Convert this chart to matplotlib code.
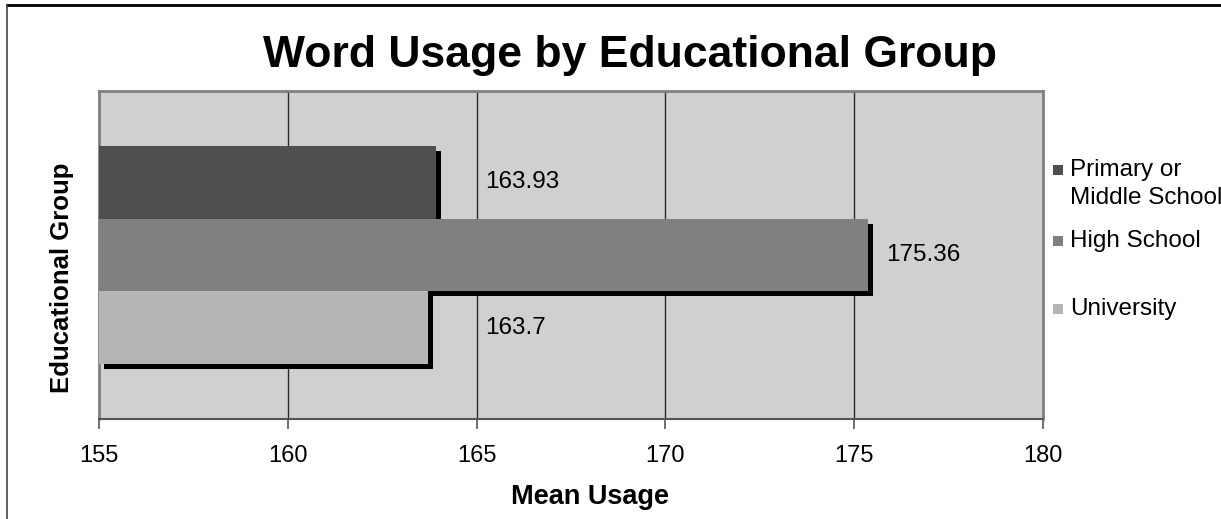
import matplotlib.pyplot as plt
from matplotlib.patches import Rectangle
from matplotlib.lines import Line2D
from matplotlib.transforms import offset_copy

plt.rcParams['font.family'] = ['Liberation Sans', 'DejaVu Sans']

# mean usage per educational group
groups = ['Primary or\nMiddle School', 'High School', 'University']
means = [163.93, 175.36, 163.7]
colors = ['#4f4f4f', '#808080', '#b5b5b5']
x_ticks = [155, 160, 165, 170, 175, 180]

W, H = 1221, 519
fig = plt.figure(figsize=(W / 100, H / 100), dpi=100)
ax = fig.add_axes([99 / W, 1 - 419 / H, (1043 - 99) / W, (419 - 91) / H])
ax.set_facecolor('#d0d0d0')

base = x_ticks[0]
ypos = [0, 1, 2]
shadow = offset_copy(ax.transData, fig=fig, x=5, y=-5, units='dots')

# draw each bar right after its own shadow so later bars cover earlier shadows
for i, (y, v, c) in enumerate(zip(ypos, means, colors)):
    ax.add_patch(Rectangle((base, y - 0.5), v - base, 1.0, facecolor='black',
                           edgecolor='none', transform=shadow, zorder=3 + 2 * i))
    ax.add_patch(Rectangle((base, y - 0.5), v - base, 1.0, facecolor=c,
                           edgecolor='none', zorder=4 + 2 * i))

# value labels
label_x = [165.22, 175.84, 165.22]
for y, v, lx in zip(ypos, means, label_x):
    ax.text(lx, y, f'{v:g}', fontsize=17.5, va='center', ha='left', zorder=10)

ax.set_xlim(x_ticks[0], x_ticks[-1])
ax.set_ylim(3.25, -1.25)
ax.set_xticks(x_ticks)
ax.set_xticklabels([str(t) for t in x_ticks], fontsize=17)
ax.set_yticks([])
ax.xaxis.grid(True, color='#2a2a2a', linewidth=1)
ax.set_axisbelow(True)
ax.tick_params(axis='x', direction='out', length=7, width=1.2, color='#555555', pad=12)
for side, sp in ax.spines.items():
    sp.set_color('#808080')
    sp.set_linewidth(2)
ax.spines['bottom'].set_color('#555555')
ax.spines['bottom'].set_linewidth(1.5)

fig.text(590 / W, 1 - 497 / H, 'Mean Usage', fontsize=19.5, fontweight='bold',
         ha='center', va='center')
fig.text(62 / W, 1 - 278 / H, 'Educational Group', rotation=90, fontsize=18.5,
         fontweight='bold', ha='center', va='center')
fig.text(630 / W, 1 - 56 / H, 'Word Usage by Educational Group', fontsize=32,
         fontweight='bold', ha='center', va='center')

# legend on the right
leg_y = [170, 241, 309]
txt_y = [184, 241, 309]
for c, g, my, ty in zip(colors, groups, leg_y, txt_y):
    fig.patches.append(Rectangle((1053 / W, 1 - (my + 5) / H), 10 / W, 10 / H,
                                 facecolor=c, edgecolor='none',
                                 transform=fig.transFigure, figure=fig))
    fig.text(1070 / W, 1 - ty / H, g, fontsize=17.5, ha='left', va='center',
             linespacing=1.3)

# outer chart frame
fig.add_artist(Line2D([7 / W, 1], [1 - 5 / H, 1 - 5 / H], color='black',
                      linewidth=2, transform=fig.transFigure))
fig.add_artist(Line2D([7 / W, 7 / W], [0, 1 - 5 / H], color='#444444',
                      linewidth=1.2, transform=fig.transFigure))

fig.savefig('out.png', dpi=100)
